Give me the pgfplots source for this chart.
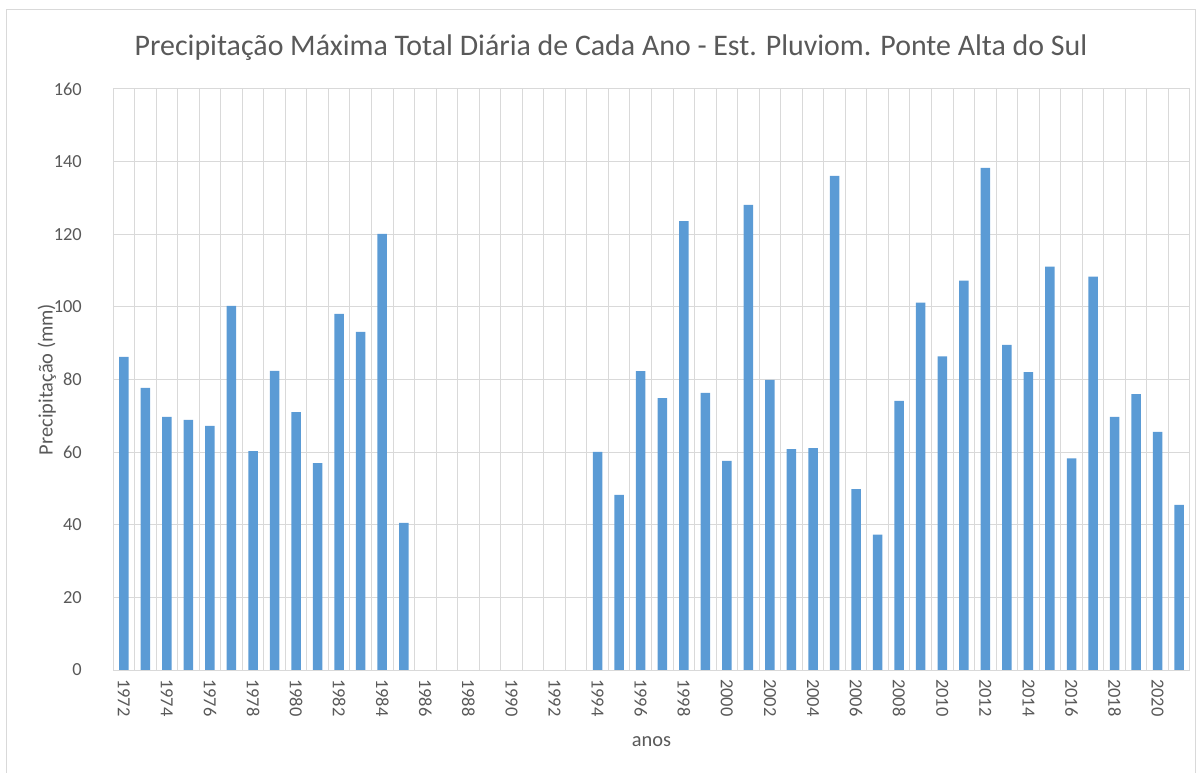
\documentclass[border=0pt]{standalone}
\usepackage{pgfplots}
\pgfplotsset{compat=1.18}
\usepackage{fontspec}
\setmainfont{Carlito}
\definecolor{barblue}{HTML}{5B9BD5}
\definecolor{gridgray}{HTML}{D9D9D9}
\definecolor{textgray}{HTML}{595959}
\begin{document}
\begin{tikzpicture}
\useasboundingbox (0bp,0bp) rectangle (1200bp,773bp);
\draw[gridgray, line width=1bp] (6bp,-5bp) rectangle (1195bp,763bp);
\node[textgray, font=\fontsize{30}{36}\selectfont, anchor=base, inner sep=0pt] at (611bp,717bp) {Precipitação Máxima Total Diária de Cada Ano - Est. Pluviom. Ponte Alta do Sul};
\begin{axis}[
  at={(113bp,103bp)}, anchor=south west,
  scale only axis, width=1077bp, height=581bp,
  xmin=1971.5, xmax=2021.5, ymin=0, ymax=160,
  xtick={1972,1974,...,2020},
  minor xtick={1971.5,1972.5,...,2021.5},
  ytick={0,20,...,160},
  xminorgrids, ymajorgrids,
  grid style={gridgray, line width=1bp},
  minor grid style={gridgray, line width=1bp},
  axis line style={gridgray, line width=1bp},
  major tick length=0pt, minor tick length=0pt,
  tick label style={textgray, font=\fontsize{18.5}{22}\selectfont},
  /pgf/number format/assume math mode=true,
  /pgf/number format/1000 sep={},
  xticklabel style={yshift=-9bp, rotate=-90, anchor=west, inner sep=0pt},
  yticklabel style={anchor=east, inner sep=0pt, xshift=-31bp},
  ylabel={Precipitação (mm)},
  xlabel={anos},
  label style={textgray, font=\fontsize{20.5}{24}\selectfont},
  ylabel style={at={(axis description cs:-0.0613,0.5)}, anchor=center},
  xlabel style={at={(axis description cs:0.5,-0.124)}, anchor=center},
  ybar, bar width=9.5bp,
]
\addplot[fill=barblue, draw=none] coordinates {
(1972,86.2) (1973,77.7) (1974,69.7) (1975,68.9) (1976,67.2) (1977,100.3)
(1978,60.3) (1979,82.4) (1980,71.0) (1981,57.0) (1982,98.1) (1983,93.1)
(1984,120.1) (1985,40.5)
(1994,60.1) (1995,48.2) (1996,82.3) (1997,74.9) (1998,123.6) (1999,76.3)
(2000,57.6) (2001,128.1) (2002,79.9) (2003,60.8) (2004,61.1) (2005,136.1)
(2006,49.8) (2007,37.3) (2008,74.1) (2009,101.2) (2010,86.4) (2011,107.2)
(2012,138.3) (2013,89.5) (2014,82.0) (2015,111.1) (2016,58.3) (2017,108.3)
(2018,69.7) (2019,76.0) (2020,65.6) (2021,45.5)
};
\end{axis}
\end{tikzpicture}
\end{document}
